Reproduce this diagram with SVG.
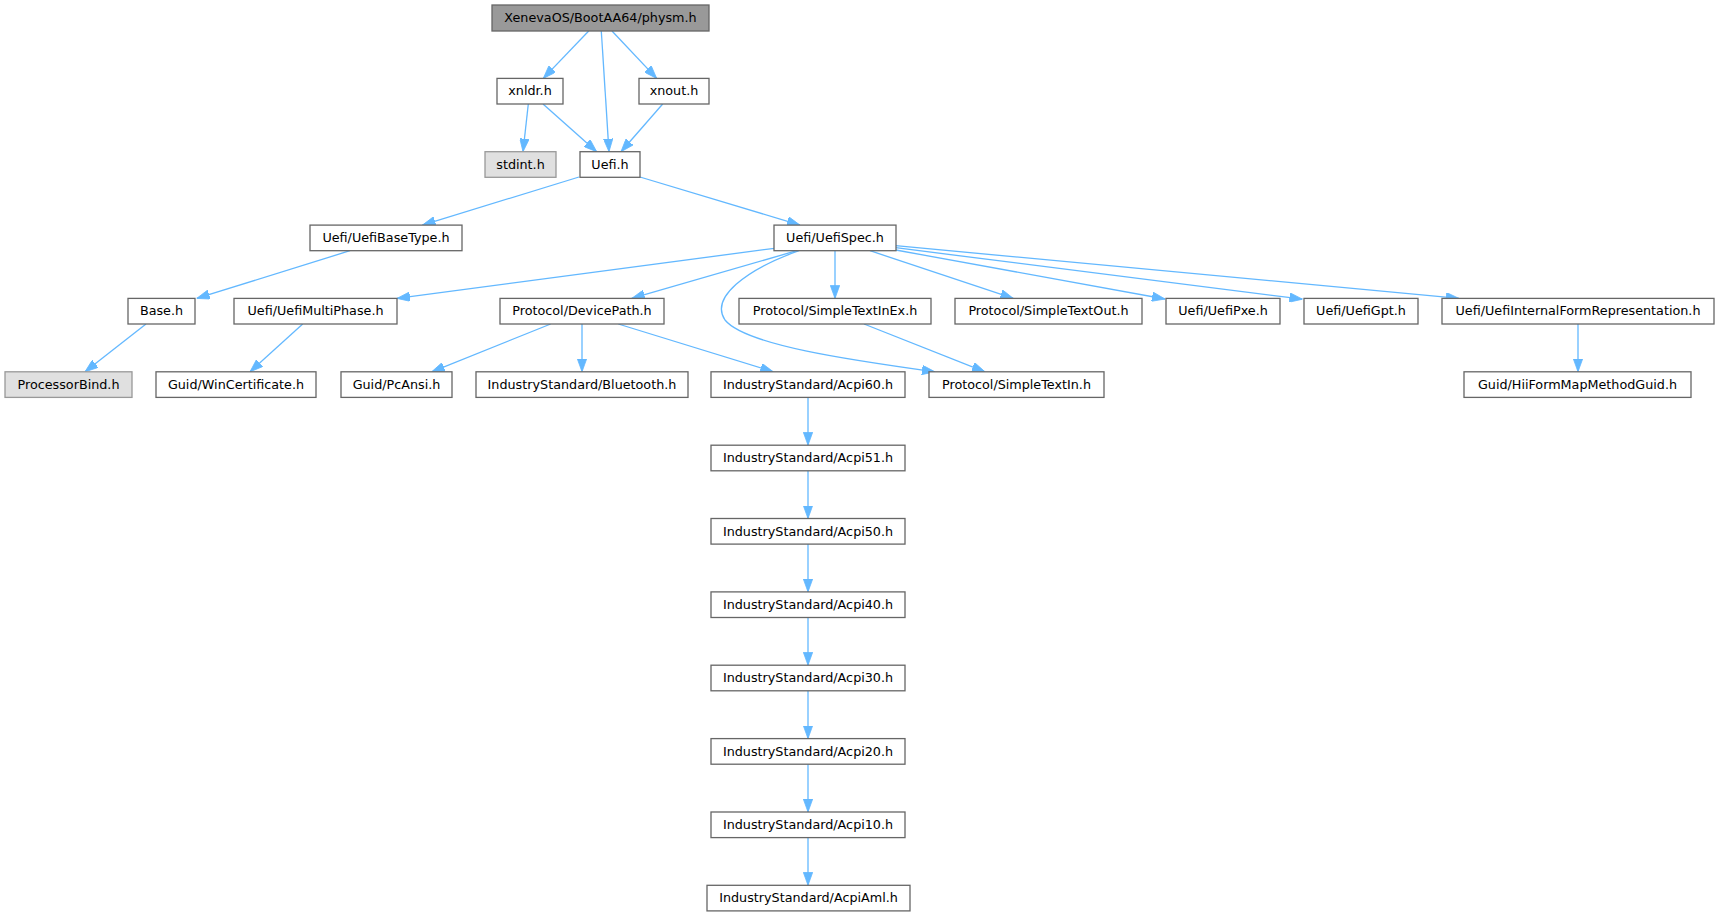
<svg xmlns="http://www.w3.org/2000/svg" width="1719" height="916" viewBox="0 0 1719 916">
<style>
.n rect{fill:#ffffff;stroke:#666666;stroke-width:1.3}
.n.top rect{fill:#999999;stroke:#666666}
.n.ext rect{fill:#e0e0e0;stroke:#999999}
.n text{font-family:"DejaVu Sans",sans-serif;font-size:12.75px;fill:#000000;text-anchor:middle}
.e path{fill:none;stroke:#63b8ff;stroke-width:1.3;marker-end:url(#arr)}
</style>
<defs>
<marker id="arr" viewBox="0 0 13 9.4" refX="13" refY="4.7" markerWidth="13" markerHeight="9.4" markerUnits="userSpaceOnUse" orient="auto">
<path d="M0,0 L13,4.7 L0,9.4 z" fill="#63b8ff" stroke="#63b8ff" stroke-width="0.8"/>
</marker>
</defs>
<rect x="0" y="0" width="1719" height="916" fill="#ffffff"/>
<g id="edges" class="e">
<path d="M588.7,31 L543.3,78.4"/>
<path d="M601.3,31 L609,151.7"/>
<path d="M612,31 L656.7,78.4"/>
<path d="M528.3,104 L523,151.7"/>
<path d="M543,104 L596.7,151.7"/>
<path d="M662.7,104 L621,151.7"/>
<path d="M579,177 L422.4,225.1"/>
<path d="M640,177 L800,225.1"/>
<path d="M350,250.7 L196.7,298.4"/>
<path d="M146,324 L85,371.8"/>
<path d="M302.7,324 L250,371.8"/>
<path d="M774.3,248.3 L397,298.4"/>
<path d="M796.7,250.7 L631.7,298.4"/>
<path d="M799,250.7 C745,270 710,298 725,320 C745,345 850,360 935,371.8"/>
<path d="M835,250.7 L835,298.4"/>
<path d="M870,250.7 L1013.3,298.4"/>
<path d="M895.7,250 L1165,299"/>
<path d="M895.7,247.7 L1302.5,299.2"/>
<path d="M895.7,245.7 L1459,298.4"/>
<path d="M550.7,324 L431.7,371.8"/>
<path d="M582,324 L582,371.8"/>
<path d="M618.3,324 L773.3,371.8"/>
<path d="M864,324 L985,371.8"/>
<path d="M1578,324 L1578,371.8"/>
<path d="M808,397.4 L808,445.2"/>
<path d="M808,470.8 L808,518.5"/>
<path d="M808,544.1 L808,591.9"/>
<path d="M808,617.5 L808,665.2"/>
<path d="M808,690.8 L808,738.6"/>
<path d="M808,764.2 L808,812"/>
<path d="M808,837.6 L808,885.3"/>
</g>
<g id="n_physm" class="n top"><rect x="492" y="5" width="217" height="26"/><text x="600.5" y="22">XenevaOS/BootAA64/physm.h</text></g>
<g id="n_xnldr" class="n"><rect x="497" y="78.4" width="66" height="25.6"/><text x="530" y="95.4">xnldr.h</text></g>
<g id="n_xnout" class="n"><rect x="639" y="78.4" width="70" height="25.6"/><text x="674" y="95.4">xnout.h</text></g>
<g id="n_stdint" class="n ext"><rect x="485" y="151.7" width="71" height="25.6"/><text x="520.5" y="168.7">stdint.h</text></g>
<g id="n_uefi" class="n"><rect x="580" y="151.7" width="60" height="25.6"/><text x="610" y="168.7">Uefi.h</text></g>
<g id="n_basetype" class="n"><rect x="310" y="225.1" width="152" height="25.6"/><text x="386" y="242.1">Uefi/UefiBaseType.h</text></g>
<g id="n_uefispec" class="n"><rect x="774" y="225.1" width="122" height="25.6"/><text x="835" y="242.1">Uefi/UefiSpec.h</text></g>
<g id="n_base" class="n"><rect x="128" y="298.4" width="67" height="25.6"/><text x="161.5" y="315.4">Base.h</text></g>
<g id="n_multiphase" class="n"><rect x="234" y="298.4" width="163" height="25.6"/><text x="315.5" y="315.4">Uefi/UefiMultiPhase.h</text></g>
<g id="n_devicepath" class="n"><rect x="500" y="298.4" width="164" height="25.6"/><text x="582" y="315.4">Protocol/DevicePath.h</text></g>
<g id="n_simpletextinex" class="n"><rect x="739" y="298.4" width="192" height="25.6"/><text x="835" y="315.4">Protocol/SimpleTextInEx.h</text></g>
<g id="n_simpletextout" class="n"><rect x="955" y="298.4" width="187" height="25.6"/><text x="1048.5" y="315.4">Protocol/SimpleTextOut.h</text></g>
<g id="n_pxe" class="n"><rect x="1166" y="298.4" width="114" height="25.6"/><text x="1223" y="315.4">Uefi/UefiPxe.h</text></g>
<g id="n_gpt" class="n"><rect x="1304" y="298.4" width="114" height="25.6"/><text x="1361" y="315.4">Uefi/UefiGpt.h</text></g>
<g id="n_ifr" class="n"><rect x="1442" y="298.4" width="272" height="25.6"/><text x="1578" y="315.4">Uefi/UefiInternalFormRepresentation.h</text></g>
<g id="n_processorbind" class="n ext"><rect x="5" y="371.8" width="127" height="25.6"/><text x="68.5" y="388.8">ProcessorBind.h</text></g>
<g id="n_wincert" class="n"><rect x="156" y="371.8" width="160" height="25.6"/><text x="236" y="388.8">Guid/WinCertificate.h</text></g>
<g id="n_pcansi" class="n"><rect x="341" y="371.8" width="111" height="25.6"/><text x="396.5" y="388.8">Guid/PcAnsi.h</text></g>
<g id="n_bluetooth" class="n"><rect x="476" y="371.8" width="212" height="25.6"/><text x="582" y="388.8">IndustryStandard/Bluetooth.h</text></g>
<g id="n_acpi60" class="n"><rect x="711" y="371.8" width="194" height="25.6"/><text x="808" y="388.8">IndustryStandard/Acpi60.h</text></g>
<g id="n_simpletextin" class="n"><rect x="929" y="371.8" width="175" height="25.6"/><text x="1016.5" y="388.8">Protocol/SimpleTextIn.h</text></g>
<g id="n_hiiformmap" class="n"><rect x="1464" y="371.8" width="227" height="25.6"/><text x="1577.5" y="388.8">Guid/HiiFormMapMethodGuid.h</text></g>
<g id="n_acpi51" class="n"><rect x="711" y="445.2" width="194" height="25.6"/><text x="808" y="462.2">IndustryStandard/Acpi51.h</text></g>
<g id="n_acpi50" class="n"><rect x="711" y="518.5" width="194" height="25.6"/><text x="808" y="535.5">IndustryStandard/Acpi50.h</text></g>
<g id="n_acpi40" class="n"><rect x="711" y="591.9" width="194" height="25.6"/><text x="808" y="608.9">IndustryStandard/Acpi40.h</text></g>
<g id="n_acpi30" class="n"><rect x="711" y="665.2" width="194" height="25.6"/><text x="808" y="682.2">IndustryStandard/Acpi30.h</text></g>
<g id="n_acpi20" class="n"><rect x="711" y="738.6" width="194" height="25.6"/><text x="808" y="755.6">IndustryStandard/Acpi20.h</text></g>
<g id="n_acpi10" class="n"><rect x="711" y="812" width="194" height="25.6"/><text x="808" y="829">IndustryStandard/Acpi10.h</text></g>
<g id="n_acpiaml" class="n"><rect x="707" y="885.3" width="203" height="25.6"/><text x="808.5" y="902.3">IndustryStandard/AcpiAml.h</text></g>
</svg>
